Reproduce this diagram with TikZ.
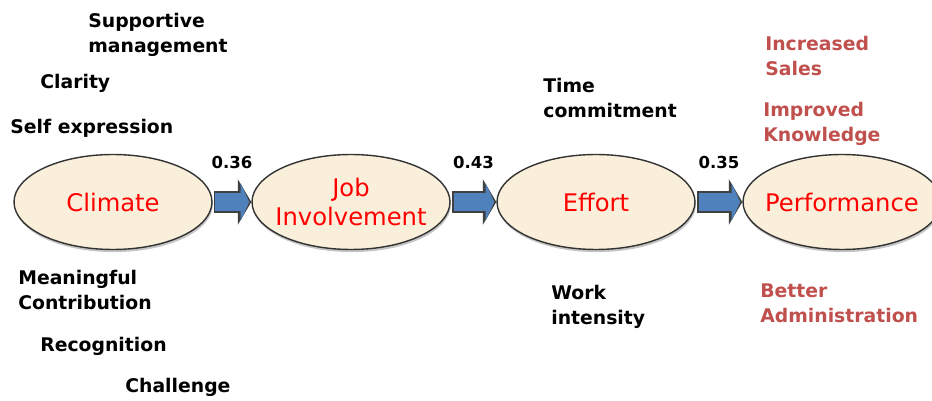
\documentclass[tikz,border=0pt]{standalone}
\usepackage{fontspec}
\setmainfont{DejaVu Sans}
\usetikzlibrary{shapes.geometric,arrows.meta,shadows}
\definecolor{ovalfill}{HTML}{F9EFDA}
\definecolor{arrowblue}{HTML}{4F81BD}
\definecolor{outcome}{HTML}{C0504D}
\tikzset{
  oval/.style={ellipse, draw=black!80, line width=0.8pt, fill=ovalfill, inner sep=-4pt,
    minimum width=3.96cm, minimum height=1.9cm, align=center,
    text=red, font=\fontsize{13.8pt}{17pt}\selectfont,
    drop shadow={shadow xshift=0.5pt, shadow yshift=-1.5pt, fill=black!45}},
  factor/.style={anchor=west, inner sep=0pt, align=left,
    font=\fontsize{10.7pt}{14pt}\selectfont\bfseries},
  result/.style={factor, text=outcome},
  weight/.style={inner sep=0pt, font=\fontsize{9.4pt}{11pt}\selectfont\bfseries},
  flowedge/.style={line width=0.44cm, draw=black!75, shorten <=1pt,
    -{Triangle[length=0.27cm,width=0.9cm]}},
  flow/.style={line width=0.36cm, draw=arrowblue, shorten <=1.6pt, shorten >=1.2pt,
    -{Triangle[length=0.17cm,width=0.74cm]}}
}
\begin{document}
\begin{tikzpicture}[x=0.02cm,y=-0.02cm]
\useasboundingbox (0,0) rectangle (932,401);
% main chain
\node[oval] (climate) at (113,202) {Climate};
\node[oval] (jobinv) at (351,202) {Job\\Involvement};
\node[oval] (effort) at (596,202) {Effort};
\node[oval] (perf) at (842,202) {Performance};
% arrows with weights
\foreach \a/\b/\w in {climate/jobinv/0.36, jobinv/effort/0.43, effort/perf/0.35} {
  \draw[flowedge] (\a.east) -- (\b.west);
  \draw[flow] (\a.east) -- (\b.west) node[weight, midway, yshift=0.8cm] {\w};
}
% climate factors
\node[factor] (supmgmt) at (88,35) {Supportive\\management};
\node[factor] (clarity) at (40,83) {Clarity};
\node[factor] (selfexp) at (10,128) {Self expression};
\node[factor] (meaning) at (18,290) {Meaningful\\Contribution};
\node[factor] (recog) at (40,346) {Recognition};
\node[factor] (challenge) at (125,387) {Challenge};
% effort factors
\node[factor] (timecom) at (543,98) {Time\\commitment};
\node[factor] (workint) at (551,307) {Work\\intensity};
% performance outcomes
\node[result] (sales) at (765,56) {Increased\\Sales};
\node[result] (knowledge) at (763,124) {Improved\\Knowledge};
\node[result] (admin) at (760,303) {Better\\Administration};
\end{tikzpicture}
\end{document}
